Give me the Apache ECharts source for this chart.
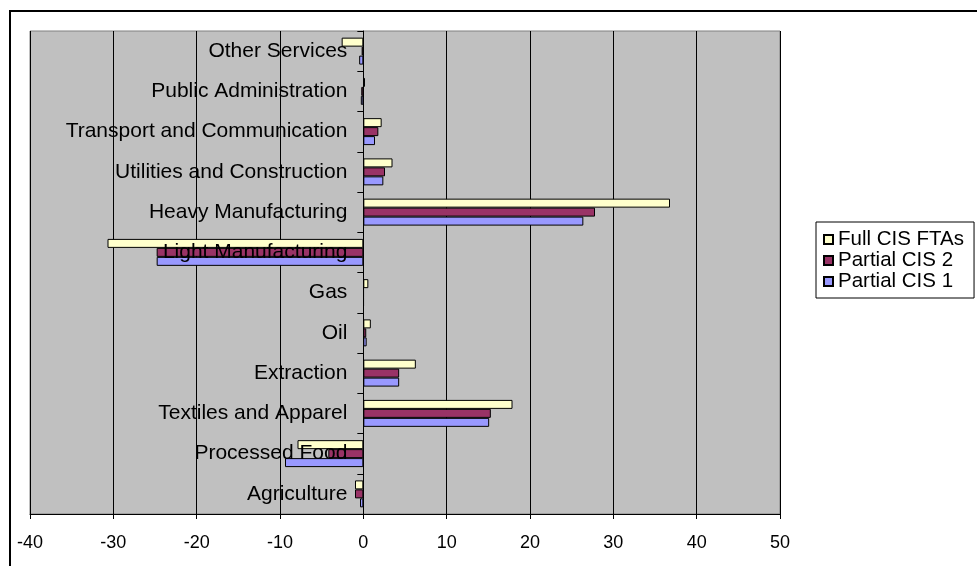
<!DOCTYPE html>
<html>
<head>
<meta charset="utf-8">
<script src="https://cdn.jsdelivr.net/npm/echarts@6/dist/echarts.min.js"></script>
<style>
html,body{margin:0;padding:0;background:#fff;}
#c{width:977px;height:566px;}
</style>
</head>
<body>
<div id="c"></div>
<script>
const categories = ['Agriculture','Processed Food','Textiles and Apparel','Extraction','Oil','Gas','Light Manufacturing','Heavy Manufacturing','Utilities and Construction','Transport and Communication','Public Administration','Other Services'];
const partialCIS1 = [-0.4, -9.4, 15.1, 4.3, 0.4, 0.05, -24.8, 26.4, 2.4, 1.4, -0.3, -0.5];
const partialCIS2 = [-1.0, -4.2, 15.3, 4.3, 0.35, 0.05, -24.8, 27.8, 2.6, 1.8, -0.25, -0.2];
const fullCISFTAs = [-1.0, -7.9, 17.9, 6.3, 0.9, 0.6, -30.7, 36.8, 3.5, 2.2, 0.2, -2.6];
const seriesNames = ['Full CIS FTAs', 'Partial CIS 2', 'Partial CIS 1'];
const xMin = -40, xMax = 50, xStep = 10;

const FONT = 'Liberation Sans, Arial, sans-serif';
const colors = ['#FFFFCC', '#993366', '#9999FF'];
const values = [fullCISFTAs, partialCIS2, partialCIS1];

const gridLeft = 30, gridRight = 197;
const plotW = 977 - gridLeft - gridRight;
const zeroOffset = -plotW * (0 - xMin) / (xMax - xMin);

const chart = echarts.init(document.getElementById('c'), null, {renderer: 'canvas'});
chart.setOption({
  animation: false,
  backgroundColor: '#ffffff',
  graphic: [{
    type: 'rect',
    shape: {x: 10, y: 11, width: 1000, height: 620},
    style: {fill: 'none', stroke: '#000', lineWidth: 2},
    silent: true, z: -1
  }],
  grid: {
    left: gridLeft, right: gridRight, top: 31, bottom: 52,
    containLabel: false, outerBoundsMode: 'none',
    show: true, backgroundColor: '#C0C0C0', borderColor: '#808080', borderWidth: 1
  },
  legend: {
    orient: 'vertical',
    left: 816, top: 222,
    data: seriesNames,
    icon: 'rect',
    itemWidth: 9, itemHeight: 9,
    itemGap: 0,
    padding: [7, 10, 6, 7],
    borderColor: '#000', borderWidth: 1,
    textStyle: {fontFamily: FONT, fontSize: 20.5, color: '#000', padding: [0, 0, 0, 0]}
  },
  xAxis: {
    type: 'value', min: xMin, max: xMax, interval: xStep,
    axisLine: {show: true, onZero: false, lineStyle: {color: '#000', width: 1}},
    axisTick: {show: true, length: 5, lineStyle: {color: '#000'}},
    axisLabel: {fontFamily: FONT, fontSize: 18, color: '#000', margin: 20},
    splitLine: {show: true, lineStyle: {color: '#000', width: 1}}
  },
  yAxis: {
    type: 'category', data: categories, z: 10,
    position: 'left', offset: zeroOffset,
    axisLine: {show: true, onZero: false, lineStyle: {color: '#000', width: 1}},
    axisTick: {show: true, length: 6, alignWithLabel: false, lineStyle: {color: '#000'}},
    axisLabel: {fontFamily: FONT, fontSize: 21, color: '#000', margin: 16},
    splitLine: {show: false}
  },
  series: seriesNames.map((name, i) => ({
    name: name,
    type: 'bar',
    data: values[i],
    barGap: '0%',
    barCategoryGap: '33%',
    itemStyle: {color: colors[i], borderColor: '#000', borderWidth: 1}
  }))
});
</script>
</body>
</html>
